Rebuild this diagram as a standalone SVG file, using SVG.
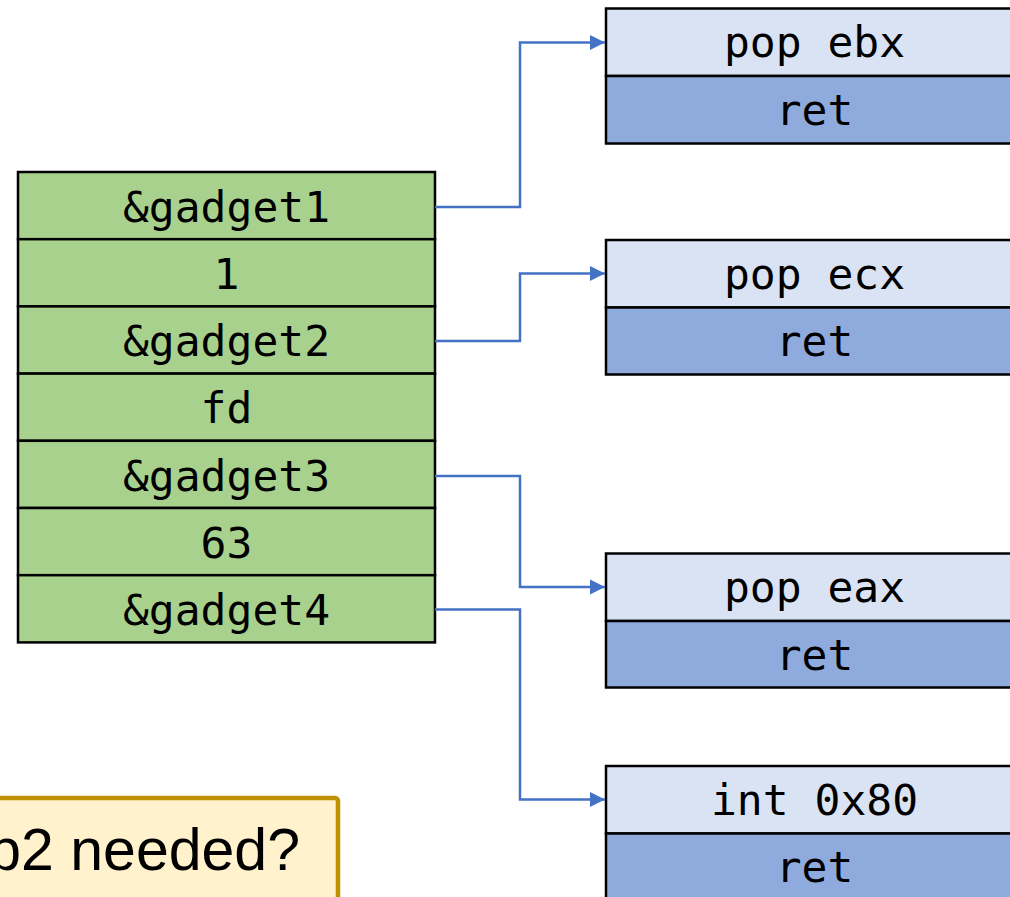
<svg xmlns="http://www.w3.org/2000/svg" width="1010" height="897" viewBox="0 0 1010 897">
  <style>
    .cell { stroke: #000; stroke-width: 2.5; }
    .stack { fill: #A9D18E; }
    .instr { fill: #DAE3F3; }
    .ret { fill: #8FAADC; }
    .mono { font-family: "DejaVu Sans Mono", "Liberation Mono", monospace; font-size: 43px; fill: #000; text-anchor: middle; }
    .link { fill: none; stroke: #4472C4; stroke-width: 2.5; marker-end: url(#arrow); }
    .note { font-family: "Liberation Sans", Arial, sans-serif; font-size: 59px; fill: #000; }
  </style>
  <defs>
    <marker id="arrow" viewBox="0 0 10 10" refX="10" refY="5" markerWidth="6.2" markerHeight="6.2" markerUnits="strokeWidth" orient="auto">
      <path d="M0,0 L10,5 L0,10 z" fill="#4472C4"/>
    </marker>
  </defs>

  <rect width="1010" height="897" fill="#fff"/>

  <!-- stack of return addresses and arguments -->
  <g id="stack">
    <rect class="cell stack" x="18" y="172" width="417" height="67.2"/>
    <rect class="cell stack" x="18" y="239.2" width="417" height="67.2"/>
    <rect class="cell stack" x="18" y="306.4" width="417" height="67.2"/>
    <rect class="cell stack" x="18" y="373.6" width="417" height="67.2"/>
    <rect class="cell stack" x="18" y="440.8" width="417" height="67.2"/>
    <rect class="cell stack" x="18" y="508" width="417" height="67.2"/>
    <rect class="cell stack" x="18" y="575.2" width="417" height="67.2"/>
    <text class="mono" x="226.5" y="222">&amp;gadget1</text>
    <text class="mono" x="226.5" y="289">1</text>
    <text class="mono" x="226.5" y="356">&amp;gadget2</text>
    <text class="mono" x="226.5" y="423">fd</text>
    <text class="mono" x="226.5" y="491">&amp;gadget3</text>
    <text class="mono" x="226.5" y="558">63</text>
    <text class="mono" x="226.5" y="625">&amp;gadget4</text>
  </g>

  <!-- gadgets -->
  <g id="gadget1">
    <rect class="cell instr" x="606" y="8.5" width="417" height="67.5"/>
    <rect class="cell ret" x="606" y="76" width="417" height="67.5"/>
    <text class="mono" x="814.5" y="57">pop ebx</text>
    <text class="mono" x="814.5" y="124.5">ret</text>
  </g>
  <g id="gadget2">
    <rect class="cell instr" x="606" y="240" width="417" height="67.5"/>
    <rect class="cell ret" x="606" y="307.5" width="417" height="67"/>
    <text class="mono" x="814.5" y="288.5">pop ecx</text>
    <text class="mono" x="814.5" y="356">ret</text>
  </g>
  <g id="gadget3">
    <rect class="cell instr" x="606" y="553.5" width="417" height="67.5"/>
    <rect class="cell ret" x="606" y="621" width="417" height="66.5"/>
    <text class="mono" x="814.5" y="602">pop eax</text>
    <text class="mono" x="814.5" y="669.5">ret</text>
  </g>
  <g id="gadget4">
    <rect class="cell instr" x="606" y="766" width="417" height="67.5"/>
    <rect class="cell ret" x="606" y="833.5" width="417" height="67"/>
    <text class="mono" x="814.5" y="814.5">int 0x80</text>
    <text class="mono" x="814.5" y="882">ret</text>
  </g>

  <!-- question callout -->
  <g id="note">
    <rect x="-10" y="798" width="348" height="104" rx="3" fill="#FFF2CC" stroke="#BF9000" stroke-width="4.5"/>
    <text class="note" x="300" y="870" text-anchor="end">p2 needed?</text>
  </g>

  <!-- pointers from stack slots to gadgets -->
  <g id="connectors">
    <path class="link" d="M435,207 H520 V42.5 H605"/>
    <path class="link" d="M435,341 H520 V273.5 H605"/>
    <path class="link" d="M435,476 H520 V587 H605"/>
    <path class="link" d="M435,609.5 H520 V799.5 H605"/>
  </g>
</svg>
